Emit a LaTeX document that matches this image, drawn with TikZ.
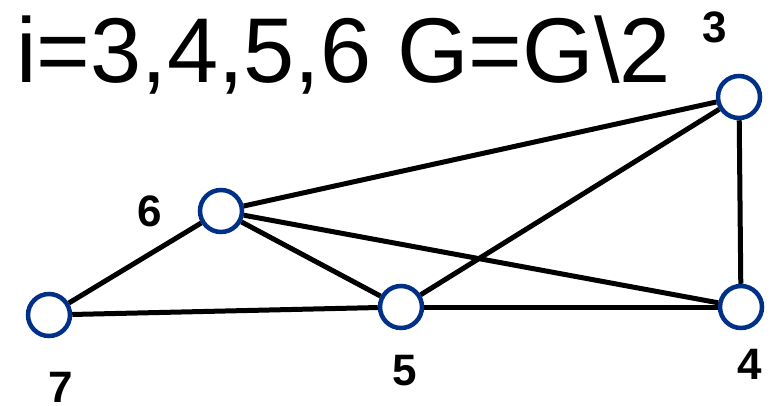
\documentclass[tikz,border=0pt]{standalone}
\usepackage{fontspec}
\setmainfont{Liberation Sans}
\definecolor{nodeblue}{RGB}{0,48,135}
\begin{document}
\begin{tikzpicture}[x=1pt,y=-1pt,
  vtx/.style={circle,draw=nodeblue,line width=4.5pt,fill=white,minimum size=42pt,inner sep=0pt},
  lbl/.style={inner sep=0pt,font=\fontsize{44}{44}\selectfont\bfseries},
  edge/.style={line width=5pt,black}]
\useasboundingbox (0,0) rectangle (783,405);
\node[inner sep=0pt,anchor=base west,font=\fontsize{92}{92}\selectfont] (title) at (16,82) {i=3,4,5,6 G=G\textbackslash 2};
\node[vtx] (n3) at (739,97) {};
\node[vtx] (n6) at (221,211) {};
\node[vtx] (n7) at (49,315) {};
\node[vtx] (n5) at (401,307) {};
\node[vtx] (n4) at (741,307) {};
\node[lbl] (l3) at (715,27) {3};
\node[lbl] (l6) at (150,211) {6};
\node[lbl] (l7) at (61,387) {7};
\node[lbl] (l5) at (405,371) {5};
\node[lbl] (l4) at (750,364) {4};
\begin{scope}[on background layer/.try]
\end{scope}
\draw[edge] (n6) -- (n3);
\draw[edge] (n6) -- (n5);
\draw[edge] (n6) -- (n4);
\draw[edge] (n7) -- (n6);
\draw[edge] (n7) -- (n5);
\draw[edge] (n5) -- (n3);
\draw[edge] (n5) -- (n4);
\draw[edge] (n3) -- (n4);
\end{tikzpicture}
\end{document}
